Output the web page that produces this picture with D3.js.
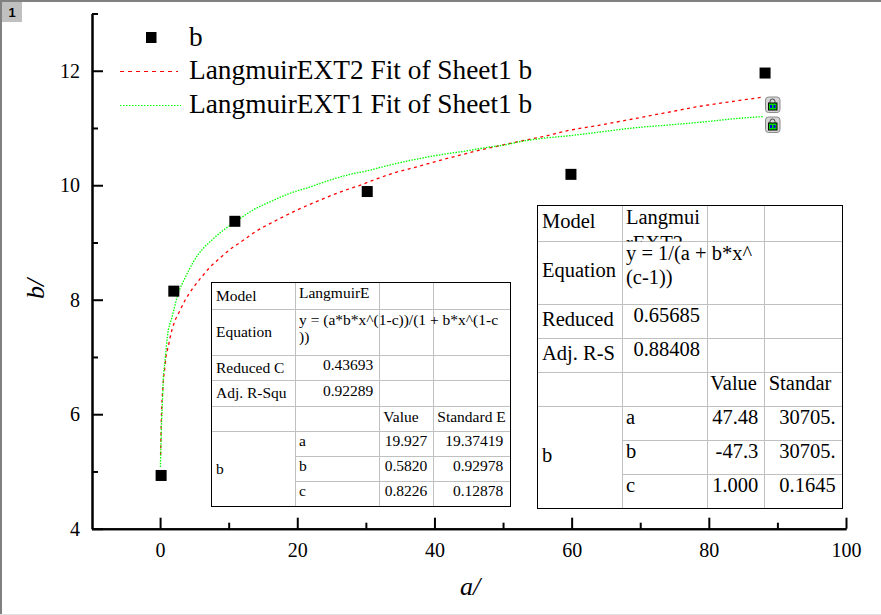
<!DOCTYPE html>
<html lang="en">
<head>
<meta charset="UTF-8">
<title>Langmuir fits</title>
<script src="https://cdn.jsdelivr.net/npm/d3@7"></script>
<style>
	body { margin: 0; background: #fff; }
	svg { display: block; }
	text { font-family: "Liberation Serif", serif; fill: #000; }
</style>
</head>
<body>
<svg id="chart" width="881" height="615"></svg>
<script>
// scatter points
var pointX = [0.15, 2, 10.9, 30.2, 59.9, 88.2];
var pointY = [4.93, 8.15, 9.37, 9.89, 10.19, 11.96];

// fit curves
var ext1X = [0.04, 0.15, 0.19, 0.29, 0.39, 0.48, 0.63, 0.83, 1.06, 1.75, 2.67, 3.64, 4.85, 6.31, 7.54, 8.75, 10.2, 11.66, 13.6, 16.03, 18.95, 21.87, 24.78, 27.7, 30.13, 33.05, 35.96, 38.88, 41.79, 44.71, 47.62, 50.04, 52.48, 55.83, 59.28, 64.14, 68.95, 73.86, 78.72, 83.57, 87.95];
var ext1Y = [5.08, 5.55, 5.78, 6.07, 6.37, 6.66, 6.83, 7.07, 7.35, 7.70, 8.12, 8.38, 8.66, 8.90, 9.04, 9.17, 9.30, 9.42, 9.57, 9.71, 9.86, 9.97, 10.09, 10.19, 10.25, 10.34, 10.42, 10.49, 10.55, 10.60, 10.66, 10.70, 10.76, 10.82, 10.86, 10.93, 11.0, 11.05, 11.10, 11.16, 11.2];
var ext2X = [0.07, 0.19, 0.25, 0.39, 0.48, 0.63, 0.83, 1.06, 1.27, 1.46, 2.04, 2.81, 3.64, 4.77, 6.08, 7.29, 8.75, 10.2, 11.66, 14.33, 16.03, 17.97, 20.41, 23.32, 25.99, 28.91, 31.59, 34.5, 37.42, 40.34, 43.25, 46.17, 49.08, 52.48, 55.88, 59.28, 64.14, 69, 73.86, 78.72, 83.57, 87.9];
var ext2Y = [5.29, 5.93, 6.16, 6.42, 6.6, 6.74, 6.98, 7.12, 7.23, 7.34, 7.59, 7.79, 7.99, 8.2, 8.4, 8.57, 8.73, 8.88, 9.0, 9.22, 9.33, 9.45, 9.59, 9.74, 9.87, 9.99, 10.11, 10.23, 10.32, 10.42, 10.51, 10.6, 10.68, 10.77, 10.85, 10.95, 11.05, 11.16, 11.27, 11.38, 11.465, 11.54];

var xMajor = [0, 20, 40, 60, 80, 100];
var xMinor = [10, 30, 50, 70, 90];
var yMajor = [4, 6, 8, 10, 12];
var yMinor = [5, 7, 9, 11, 13];

var legendNames = ["b", "LangmuirEXT2 Fit of Sheet1 b", "LangmuirEXT1 Fit of Sheet1 b"];

// table text
var leftNames = ["Model", "Equation", "Reduced C", "Adj. R-Squ"];
var leftModel = ["LangmuirE"];
var leftEq = ["y = (a*b*x^(1-c))/(1 + b*x^(1-c", "))"];
var leftStats = ["0.43693", "0.92289"];
var leftHead = ["Value", "Standard E"];
var leftValues = ["19.927", "0.5820", "0.8226"];
var leftErrors = ["19.37419", "0.92978", "0.12878"];

var rightNames = ["Model", "Equation", "Reduced", "Adj. R-S"];
var rightModel = ["Langmui", "rEXT2"];
var rightEq = ["y = 1/(a + b*x^", "(c-1))"];
var rightStats = ["0.65685", "0.88408"];
var rightHead = ["Value", "Standar"];
var rightValues = ["47.48", "-47.3", "1.000"];
var rightErrors = ["30705.", "30705.", "0.1645"];

var paramNames = ["a", "b", "c"];

var svg = d3.select("#chart");

var x = d3.scaleLinear().domain([-10, 100]).range([91.5, 846]);
var y = d3.scaleLinear().domain([4, 13]).range([528.7, 13.5]);

// window frame
svg.append("rect").attr("x", 0).attr("y", 0).attr("width", 2).attr("height", 615).attr("fill", "#808080");
svg.append("rect").attr("x", 0).attr("y", 0).attr("width", 881).attr("height", 2).attr("fill", "#808080");
svg.append("rect").attr("x", 0).attr("y", 614).attr("width", 881).attr("height", 1).attr("fill", "#e0e0e0");
svg.append("rect").attr("x", 2).attr("y", 2).attr("width", 20).attr("height", 20).attr("fill", "#c0c0c0");
svg.append("text").attr("x", 12).attr("y", 17).attr("text-anchor", "middle")
	.style("font-family", "Liberation Sans").style("font-weight", "bold").style("font-size", "13px").text("1");

// axes
function styleAxis(g, size) {
	g.select(".domain").attr("stroke", "#000").attr("stroke-width", 2);
	g.selectAll(".tick line").attr("stroke", "#000").attr("stroke-width", 2);
	g.selectAll(".tick text").style("font-family", "Liberation Serif").style("font-size", size + "px").attr("fill", "#000");
}

svg.append("g").attr("transform", "translate(0,528.7)")
	.call(d3.axisBottom(x).tickValues(xMinor).tickSizeInner(-6).tickSizeOuter(0).tickFormat(""))
	.call(styleAxis, 20);
svg.append("g").attr("transform", "translate(0,528.7)")
	.call(d3.axisBottom(x).tickValues(xMajor).tickSizeInner(-11).tickSizeOuter(0).tickPadding(14))
	.call(styleAxis, 20);
svg.append("g").attr("transform", "translate(92,0)")
	.call(d3.axisLeft(y).tickValues(yMinor).tickSizeInner(-6).tickSizeOuter(0).tickFormat(""))
	.call(styleAxis, 20);
svg.append("g").attr("transform", "translate(92,0)")
	.call(d3.axisLeft(y).tickValues(yMajor).tickSizeInner(-11).tickSizeOuter(0).tickPadding(12))
	.call(styleAxis, 20);

svg.append("text").attr("x", 470).attr("y", 595).attr("text-anchor", "middle")
	.style("font-size", "26px").style("font-style", "italic").text("a/");
svg.append("text").attr("transform", "translate(44,289) rotate(-90)").attr("text-anchor", "middle")
	.style("font-size", "26px").style("font-style", "italic").text("b/");

// curves
function drawFit(xs, ys, color, dash) {
	var line = d3.line()
		.x(function(d) { return x(d); })
		.y(function(d, i) { return y(ys[i]); })
		.curve(d3.curveMonotoneX);
	svg.append("path").attr("d", line(xs)).attr("fill", "none")
		.attr("stroke", color).attr("stroke-width", 1.3).attr("stroke-dasharray", dash);
}
drawFit(ext2X, ext2Y, "#ff0000", "3 3.5");
drawFit(ext1X, ext1Y, "#00ff00", "1.5 1.3");

// points
svg.selectAll("rect.pt").data(pointX).enter().append("rect").attr("class", "pt")
	.attr("x", function(d) { return x(d) - 5.5; })
	.attr("y", function(d, i) { return y(pointY[i]) - 5.5; })
	.attr("width", 11).attr("height", 11).attr("fill", "#000");

// legend
svg.append("rect").attr("x", 146).attr("y", 32).attr("width", 10.5).attr("height", 11).attr("fill", "#000");
svg.append("line").attr("x1", 120).attr("x2", 178).attr("y1", 71.5).attr("y2", 71.5)
	.attr("stroke", "#ff0000").attr("stroke-dasharray", "4 4");
svg.append("line").attr("x1", 120).attr("x2", 181).attr("y1", 105.5).attr("y2", 105.5)
	.attr("stroke", "#00ff00").attr("stroke-dasharray", "1.5 1.5");
svg.selectAll("text.leg").data(legendNames).enter().append("text").attr("class", "leg")
	.attr("x", 189)
	.attr("y", function(d, i) { return [45.7, 79.3, 113.3][i]; })
	.style("font-size", "27.35px").text(function(d) { return d; });

// lock icons at the end of the fit lines
function drawLock(cx, cy) {
	var g = svg.append("g").attr("transform", "translate(" + cx + "," + cy + ")");
	g.append("rect").attr("x", -7).attr("y", -8).attr("width", 14.5).attr("height", 15.5).attr("rx", 3)
		.attr("fill", "#d4d4d4").attr("stroke", "#8c8c8c");
	g.append("path").attr("d", "M-2.5,-2V-3.5a2.5,2.5 0 0 1 5,0V-2").attr("fill", "none").attr("stroke", "#444");
	g.append("rect").attr("x", -4).attr("y", -2).attr("width", 8.5).attr("height", 7).attr("fill", "#00d800").attr("stroke", "#000");
	g.append("rect").attr("x", -2.5).attr("y", 0).attr("width", 2).attr("height", 3).attr("fill", "#0000e0");
	g.append("rect").attr("x", 1).attr("y", 0).attr("width", 2).attr("height", 3).attr("fill", "#0000e0");
}
drawLock(772.5, 105);
drawLock(772.5, 125);

// tables
function drawTable(id, box, t) {
	var g = svg.append("g");
	// model name gets cut off at the bottom of its cell
	svg.append("clipPath").attr("id", id).append("rect")
		.attr("x", box.cols[0]).attr("y", box.top)
		.attr("width", box.cols[1] - box.cols[0])
		.attr("height", box.rows[0] - box.top);

	g.append("rect").attr("x", box.left).attr("y", box.top)
		.attr("width", box.right - box.left).attr("height", box.bottom - box.top).attr("fill", "#fff");

	// grid: the last two rows share the first column
	box.rows.forEach(function(r, i) {
		g.append("line").attr("x1", i >= box.rows.length - 2 ? box.cols[0] : box.left)
			.attr("x2", box.right).attr("y1", r).attr("y2", r).attr("stroke", "#c0c0c0");
	});
	box.cols.forEach(function(c) {
		g.append("line").attr("x1", c).attr("x2", c).attr("y1", box.top).attr("y2", box.bottom).attr("stroke", "#c0c0c0");
	});
	g.append("rect").attr("x", box.left).attr("y", box.top)
		.attr("width", box.right - box.left).attr("height", box.bottom - box.top)
		.attr("fill", "none").attr("stroke", "#000");

	function put(s, px, py, anchor) {
		return g.append("text").attr("x", px).attr("y", py).attr("text-anchor", anchor || "start")
			.style("font-size", box.size + "px").text(s);
	}
	t.names.forEach(function(s, i) { put(s, box.nameX, box.nameY[i]); });
	t.model.forEach(function(s, i) {
		put(s, box.textX, box.modelY + i * box.modelH).attr("clip-path", "url(#" + id + ")");
	});
	t.eq.forEach(function(s, i) { put(s, box.textX, box.eqY + i * box.lineH); });
	t.stats.forEach(function(s, i) { put(s, box.statX, box.statY[i], "end"); });
	put(t.head[0], box.valX, box.headY);
	put(t.head[1], box.errX, box.headY);
	put("b", box.nameX, box.paramLabelY);
	paramNames.forEach(function(s, i) {
		put(s, box.textX, box.paramY[i]);
		put(t.values[i], box.valEnd, box.paramY[i], "end");
		put(t.errors[i], box.errEnd, box.paramY[i], "end");
	});
}

drawTable("clipLeft", {
	left: 211.5, right: 510.5, top: 282.5, bottom: 506.5,
	cols: [295.5, 379.5, 433.5],
	rows: [309.5, 355.5, 380.5, 406.5, 431.5, 456.5, 481.5],
	size: 15.5, lineH: 16.5, modelH: 19,
	nameX: 216, nameY: [301, 337.3, 373.3, 398.3],
	textX: 299, modelY: 298.3, eqY: 325,
	statX: 373.3, statY: [370, 395.7],
	valX: 383.3, errX: 437.3, headY: 421.7,
	paramLabelY: 474, paramY: [446, 471.3, 496],
	valEnd: 427.3, errEnd: 503.3
}, { names: leftNames, model: leftModel, eq: leftEq, stats: leftStats, head: leftHead, values: leftValues, errors: leftErrors });

drawTable("clipRight", {
	left: 537.5, right: 842.5, top: 205.5, bottom: 508.5,
	cols: [622.5, 707.5, 764.5],
	rows: [241.5, 304.5, 338.5, 372.5, 406.5, 440.5, 474.5],
	size: 20.5, lineH: 24.3, modelH: 26,
	nameX: 542, nameY: [227.7, 277.3, 325.7, 360],
	textX: 626, modelY: 224.3, eqY: 260,
	statX: 700, statY: [321.7, 356],
	valX: 710.3, errX: 768.7, headY: 390,
	paramLabelY: 461.7, paramY: [424, 458.3, 491.7],
	valEnd: 758.3, errEnd: 835.7
}, { names: rightNames, model: rightModel, eq: rightEq, stats: rightStats, head: rightHead, values: rightValues, errors: rightErrors });
</script>
</body>
</html>
